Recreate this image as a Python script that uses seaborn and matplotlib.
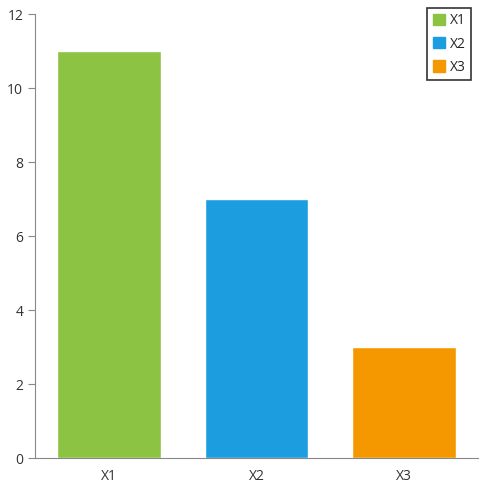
import matplotlib
matplotlib.use("Agg")
import matplotlib.pyplot as plt
import seaborn as sns
import pandas as pd
from matplotlib.patches import Patch

categories = ["X1", "X2", "X3"]
values = [11, 7, 3]
colors = ["#8dc343", "#1c9ddf", "#f59800"]

sns.set_style("white")
plt.rcParams['font.family'] = ['Open Sans', 'DejaVu Sans']

fig = plt.figure(figsize=(4.93, 5.03), dpi=100)
ax = fig.add_axes([35/493, 45/503, 443/493, 444/503])
df = pd.DataFrame({"cat": categories, "val": values})
sns.barplot(data=df, x="cat", y="val", hue="cat", palette=colors, width=0.7,
            saturation=1, legend=False, ax=ax)
ax.set_xlim(-0.5, 2.5)
ax.set_ylim(0, 12)
ax.set_yticks(range(0, 13, 2))
ax.set_xlabel("")
ax.set_ylabel("")
for s in ["top", "right"]:
    ax.spines[s].set_visible(False)
for s in ["left", "bottom"]:
    ax.spines[s].set_color("#888888")
ax.tick_params(axis="x", length=0, labelsize=10, colors="#333333", pad=8)
ax.set_xticks([-0.5, 0.5, 1.5, 2.5], minor=True)
ax.tick_params(axis="x", which="minor", length=5, color="#888888", direction="out")
ax.tick_params(axis="y", length=5, color="#888888", direction="out", labelsize=10, colors="#333333", left=True)
handles = [Patch(color=c, label=l) for c, l in zip(colors, categories)]
leg = ax.legend(handles=handles, loc="upper right", frameon=True, fancybox=False,
                handlelength=0.9, handleheight=0.9, handletextpad=0.3,
                borderpad=0.4, labelspacing=0.6, fontsize=10,
                bbox_to_anchor=(1.0, 1.03))
leg.get_frame().set_edgecolor("black")
leg.get_frame().set_linewidth(1.2)
fig.savefig("out.png", dpi=100)
